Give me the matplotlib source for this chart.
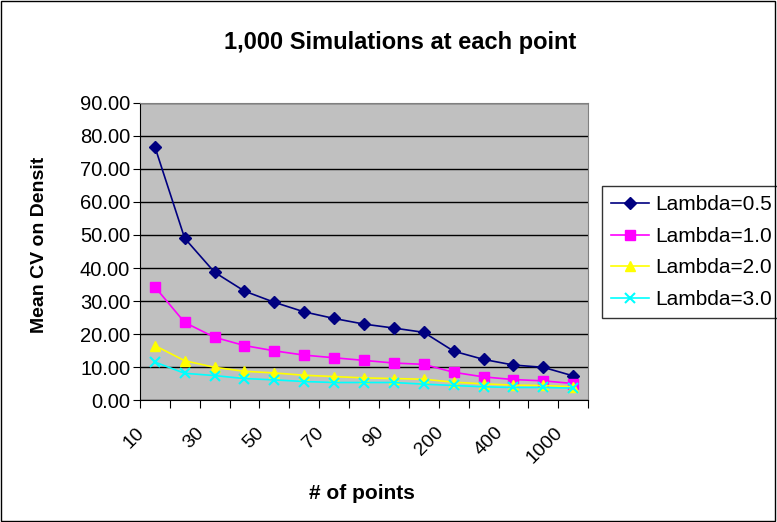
import matplotlib
matplotlib.use("Agg")
import matplotlib.pyplot as plt
from matplotlib.patches import Rectangle
from matplotlib.transforms import ScaledTranslation

plt.rcParams['font.family'] = ['Liberation Sans', 'DejaVu Sans']

# x categories (# of points)
points = ['10', '20', '30', '40', '50', '60', '70', '80', '90', '100',
          '200', '300', '400', '500', '1000']

# Mean CV on density for each lambda
lam05 = [76.8, 49.0, 38.7, 33.0, 29.6, 26.7, 24.7, 23.0, 21.8, 20.5,
         14.8, 12.3, 10.6, 9.9, 7.3]
lam10 = [34.3, 23.5, 19.0, 16.5, 14.9, 13.6, 12.8, 12.0, 11.2, 10.8,
         8.4, 7.0, 6.2, 5.8, 5.0]
lam20 = [16.5, 11.9, 9.9, 8.7, 8.2, 7.5, 7.1, 6.7, 6.5, 6.3,
         5.4, 4.9, 4.5, 4.4, 4.0]
lam30 = [11.5, 8.1, 7.4, 6.5, 6.1, 5.6, 5.3, 5.3, 5.3, 4.8,
         4.4, 4.0, 3.8, 3.8, 3.6]

x = list(range(len(points)))

fig = plt.figure(figsize=(7.77, 5.22), dpi=100, facecolor='w')
# thin border round the whole chart, like Excel's chart area
fig.patches.append(Rectangle((0.001, 0.001), 0.997, 0.997, transform=fig.transFigure,
                             fill=False, edgecolor='black', lw=1))

ax = fig.add_axes([0.180, 0.2337, 0.577, 0.569], facecolor='#C0C0C0')
ax.set_axisbelow(True)

ax.plot(x, lam05, color='#000080', marker='D', ms=6, lw=1.2, label='Lambda=0.5')
ax.plot(x, lam10, color='#FF00FF', marker='s', ms=7, lw=1.2, label='Lambda=1.0')
ax.plot(x, lam20, color='#FFFF00', marker='^', ms=7, lw=1.2, label='Lambda=2.0')
ax.plot(x, lam30, color='#00FFFF', marker='x', ms=7, mew=1.5, lw=1.2, label='Lambda=3.0')

ax.set_xlim(-0.5, len(points) - 0.5)
ax.set_ylim(0, 90)
ax.set_yticks(range(0, 91, 10))
ax.set_yticklabels(['%.2f' % v for v in range(0, 91, 10)], fontsize=14.5)
ax.grid(axis='y', color='black', lw=1)

# tick marks sit between categories, labels on every other category
ax.set_xticks([i - 0.5 for i in range(len(points) + 1)])
ax.set_xticklabels([])
ax.set_xticks(x[::2], minor=True)
ax.set_xticklabels(points[::2], minor=True, rotation=45, ha='right', va='center',
                   rotation_mode='anchor', fontsize=14)
ax.tick_params(axis='x', which='minor', length=0, pad=0)
ax.tick_params(axis='x', which='major', length=6, direction='out')
ax.tick_params(axis='y', length=5, direction='out', pad=2)
shift = ScaledTranslation(-0.13, -0.30, fig.dpi_scale_trans)
for lab in ax.get_xticklabels(minor=True):
    lab.set_transform(lab.get_transform() + shift)

for s in ('top', 'right'):
    ax.spines[s].set_color('#808080')
for s in ('left', 'bottom'):
    ax.spines[s].set_color('black')

fig.text(400 / 777, 1 - 42 / 522, '1,000 Simulations at each point',
         fontsize=17, fontweight='bold', ha='center', va='center')
ax.set_xlabel('# of points', fontsize=15, fontweight='bold')
ax.xaxis.set_label_coords((362 - 140) / 448, (400 - 493) / 297)
ax.xaxis.label.set_va('center')
ax.set_ylabel('Mean CV on Densit', fontsize=14, fontweight='bold')
ax.yaxis.set_label_coords((40 - 140) / 448, (400 - 245) / 297)
ax.yaxis.label.set_va('center')

leg = ax.legend(loc='upper left', bbox_to_anchor=(602 / 777, 1 - 186 / 522),
                bbox_transform=fig.transFigure,
                fontsize=15, frameon=True, fancybox=False, borderaxespad=0,
                handlelength=1.8, labelspacing=0.6, handletextpad=0.3, borderpad=0.45)
leg.get_frame().set_edgecolor('black')
leg.get_frame().set_linewidth(1)

fig.savefig('out.png', dpi=100)
